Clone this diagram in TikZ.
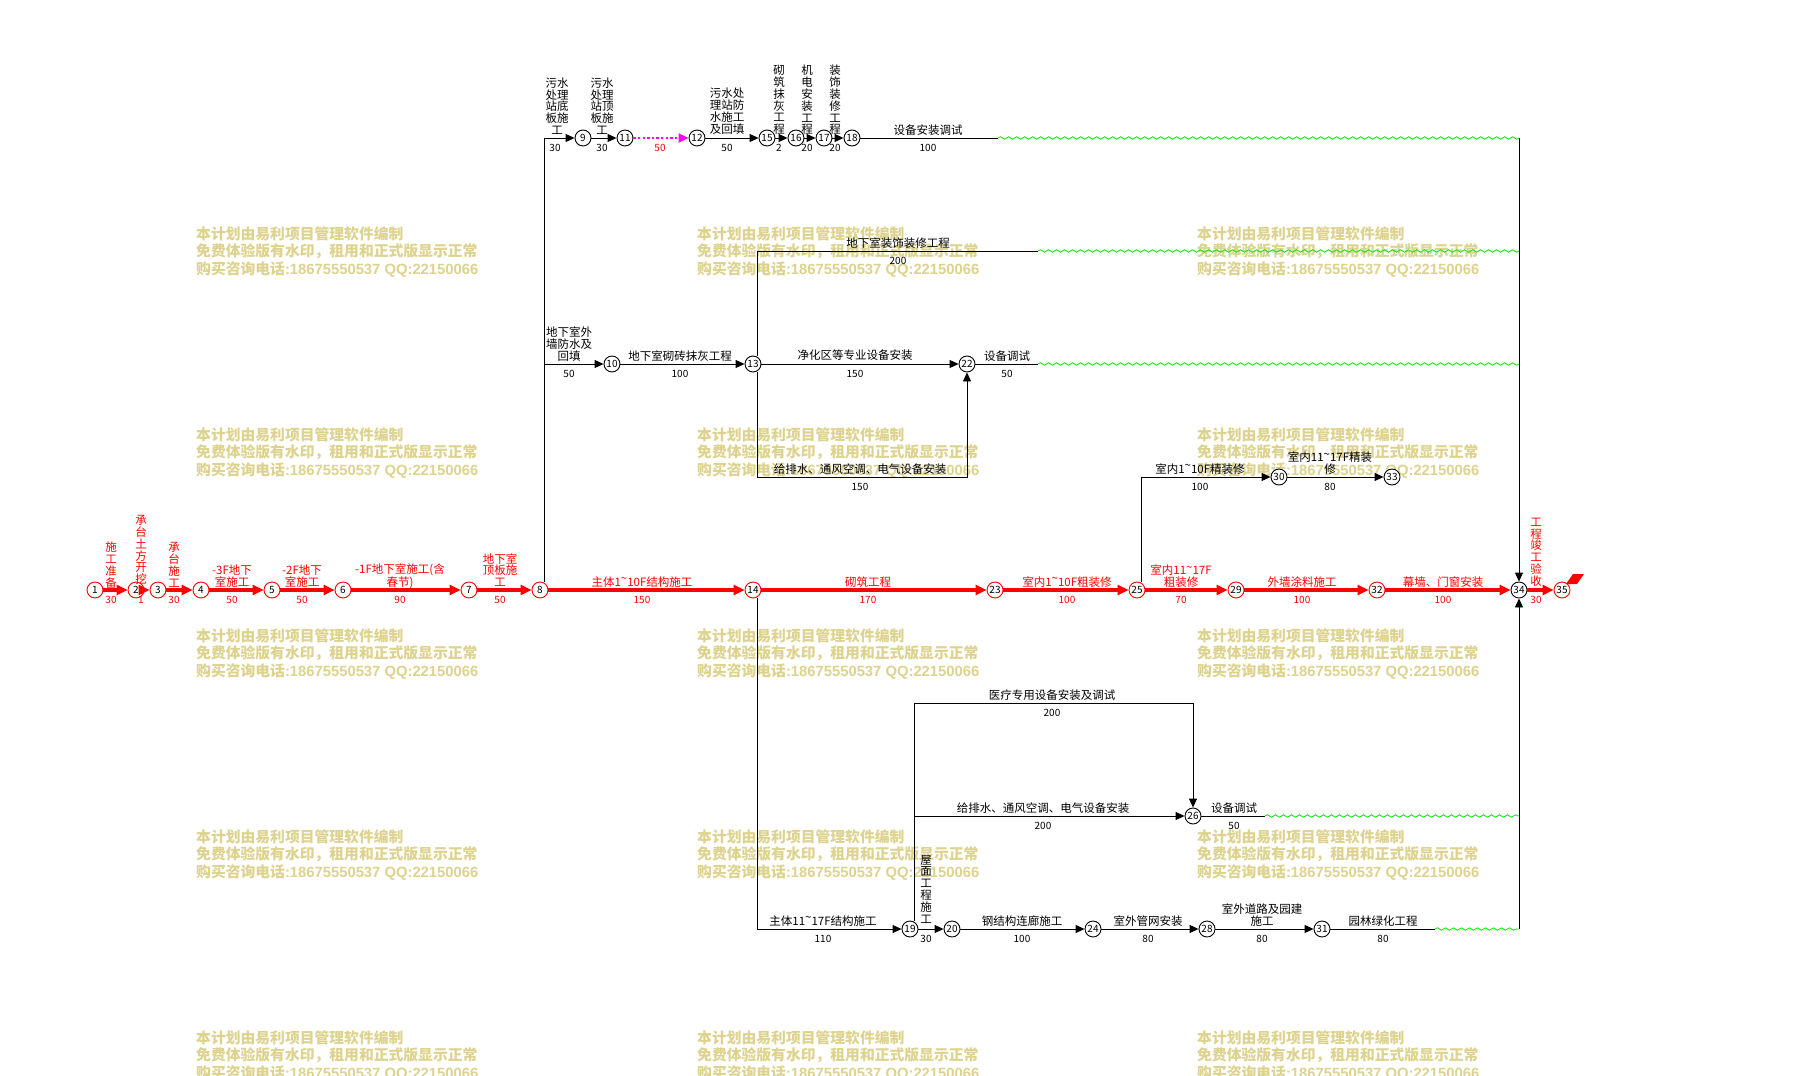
\documentclass[tikz,border=0pt]{standalone}
\usepackage{fontspec}
\setmainfont{Noto Sans CJK SC}
\newfontfamily\latwm{Liberation Sans}
\usetikzlibrary{arrows.meta,decorations.pathmorphing,calc}
\pgfdeclarelayer{bg}
\pgfsetlayers{bg,main}
\definecolor{wmc}{RGB}{221,211,142}
\definecolor{grn}{RGB}{0,235,0}
\definecolor{mag}{RGB}{255,0,255}
\newcommand\tl{\raisebox{0.3em}{\textasciitilde}}
\newcommand\wmtext{本计划由易利项目管理软件编制\\免费体验版有水印，租用和正式版显示正常\\购买咨询电话{\latwm :18675550537 QQ:22150066}}
\begin{document}
\begin{tikzpicture}[x=1pt,y=-1pt,
  cn/.style={circle,draw=black,line width=0.9pt,fill=white,minimum size=16pt,inner sep=0pt,font=\fontsize{10}{10}\selectfont},
  rn/.style={cn,draw=red},
  blk/.style={draw=black,line width=0.9pt},
  blka/.style={blk,-{Triangle[length=9pt,width=8pt]}},
  redl/.style={draw=red,line width=3.2pt,-{Triangle[length=11pt,width=10pt]}},
  magl/.style={draw=mag,line width=2pt,dash pattern=on 2.3pt off 2.3pt,-{Triangle[length=10pt,width=9pt]}},
  wavy/.style={draw=grn,line width=0.8pt,decorate,decoration={snake,segment length=8pt,amplitude=1.2pt}},
  lb/.style={inner sep=0pt,align=center,font=\fontsize{11.5}{11.8}\selectfont},
  rlb/.style={lb,text=red},
  du/.style={inner sep=0pt,font=\fontsize{10}{10}\selectfont},
  rdu/.style={du,text=red},
  wm/.style={inner sep=0pt,align=left,anchor=north west,text=wmc,font=\bfseries\fontsize{14.8}{17.5}\selectfont}
]
\useasboundingbox (0,0) rectangle (1805,1076);
\begin{pgfonlayer}{bg}
\fill[white] (0,0) rectangle (1805,1076);
\foreach \wx/\wy [count=\i] in {196/226,697/226,1197/226,196/427,697/427,1197/427,196/628,697/628,1197/628,196/829,697/829,1197/829,196/1030,697/1030,1197/1030}
  \node[wm] (wm\i) at (\wx,\wy) {\wmtext};
\end{pgfonlayer}

% ---------- nodes ----------
\node[rn] (n1) at (95,590) {1};
\node[rn] (n2) at (136,590) {2};
\node[rn] (n3) at (158,590) {3};
\node[rn] (n4) at (201,590) {4};
\node[rn] (n5) at (272,590) {5};
\node[rn] (n6) at (343,590) {6};
\node[rn] (n7) at (469,590) {7};
\node[rn] (n8) at (540,590) {8};
\node[cn] (n9) at (583,138) {9};
\node[cn] (n11) at (625,138) {11};
\node[cn] (n12) at (697,138) {12};
\node[cn] (n15) at (767,138) {15};
\node[cn] (n16) at (796,138) {16};
\node[cn] (n17) at (824,138) {17};
\node[cn] (n18) at (852,138) {18};
\node[cn] (n10) at (612,364) {10};
\node[cn] (n13) at (753,364) {13};
\node[cn] (n22) at (967,364) {22};
\node[rn] (n14) at (753,590) {14};
\node[rn] (n23) at (995,590) {23};
\node[rn] (n25) at (1137,590) {25};
\node[rn] (n29) at (1236,590) {29};
\node[rn] (n32) at (1377,590) {32};
\node[cn] (n34) at (1519,590) {34};
\node[rn] (n35) at (1562,590) {35};
\node[cn] (n30) at (1279,477) {30};
\node[cn] (n33) at (1392,477) {33};
\node[cn] (n26) at (1193,816) {26};
\node[cn] (n19) at (910,929) {19};
\node[cn] (n20) at (952,929) {20};
\node[cn] (n24) at (1093,929) {24};
\node[cn] (n28) at (1207,929) {28};
\node[cn] (n31) at (1322,929) {31};

\coordinate (w1) at (998,138);  \coordinate (e1) at (1519,138);
\coordinate (w2) at (1038,251); \coordinate (e2) at (1519,251);
\coordinate (w3) at (1038,364); \coordinate (e3) at (1519,364);
\coordinate (w4) at (1265,816); \coordinate (e4) at (1519,816);
\coordinate (w5) at (1435,929); \coordinate (e5) at (1519,929);
\coordinate (c22) at (967,477);
\coordinate (c26) at (1193,703);

% ---------- red critical path ----------
\foreach \a/\b in {n1/n2,n2/n3,n3/n4,n4/n5,n5/n6,n6/n7,n7/n8,n8/n14,n14/n23,n23/n25,n25/n29,n29/n32,n32/n34,n34/n35}
  \draw[redl] (\a) -- (\b);

% ---------- black connectors ----------
\draw[blka] ([xshift=4.5pt]n8.north) |- (n9);
\draw[blka] ([xshift=4.5pt]n8.north) |- (n10);
\draw[blka] (n9) -- (n11);
\draw[magl] (n11) -- (n12);
\foreach \a/\b in {n12/n15,n15/n16,n16/n17,n17/n18,n10/n13,n13/n22,n19/n20,n20/n24,n24/n28,n28/n31,n30/n33}
  \draw[blka] (\a) -- (\b);
\draw[blk] (n18) -- (w1);
\draw[blk] ([xshift=4.5pt]n13.north) |- (w2);
\draw[blk] (n22) -- (w3);
\draw[blka] ([xshift=4.5pt]n13.south) |- (c22) -- (n22);
\draw[blka] ([xshift=4.5pt]n14.south) |- (n19);
\draw[blka] ([xshift=4.5pt]n19.north) |- (c26) -- (n26);
\draw[blka] ([xshift=4.5pt]n19.north) |- (n26);
\draw[blk] (n26) -- (w4);
\draw[blk] (n31) -- (w5);
\draw[blka] ([xshift=4.5pt]n25.north) |- (n30);
\foreach \p in {1,2,3,4,5}
  \draw[wavy] (w\p) -- (e\p);
\draw[blka] (e1) -- (n34);
\draw[blka] (e5) -- (n34);

% flag
\fill[red] (1566,584) -- (1573,574) -- (1584,574) -- (1577,584) -- cycle;

% ---------- labels: top row ----------
\node[lb] (l9) at (557,106) {污水\\处理\\站底\\板施\\工};
\node[du] (d9) at (555,148) {30};
\node[lb] (l11) at (602,106) {污水\\处理\\站顶\\板施\\工};
\node[du] (d11) at (602,148) {30};
\node[rdu] (d12) at (660,148) {50};
\node[lb] (l15) at (727,111) {污水处\\理站防\\水施工\\及回填};
\node[du] (d15) at (727,148) {50};
\node[lb] (l16) at (779,100) {砌\\筑\\抹\\灰\\工\\程};
\node[du] (d16) at (779,148) {2};
\node[lb] (l17) at (807,100) {机\\电\\安\\装\\工\\程};
\node[du] (d17) at (807,148) {20};
\node[lb] (l18) at (835,100) {装\\饰\\装\\修\\工\\程};
\node[du] (d18) at (835,148) {20};
\node[lb] (l1s) at (928,130) {设备安装调试};
\node[du] (d1s) at (928,148) {100};
% row 251
\node[lb] (l2s) at (898,243) {地下室装饰装修工程};
\node[du] (d2s) at (898,261) {200};
% row 364
\node[lb] (l10) at (569,344) {地下室外\\墙防水及\\回填};
\node[du] (d10) at (569,374) {50};
\node[lb] (l13) at (680,356) {地下室砌砖抹灰工程};
\node[du] (d13) at (680,374) {100};
\node[lb] (l22) at (855,355) {净化区等专业设备安装};
\node[du] (d22) at (855,374) {150};
\node[lb] (l3s) at (1007,356) {设备调试};
\node[du] (d3s) at (1007,374) {50};
% row 477
\node[lb] (lc22) at (860,469) {给排水、通风空调、电气设备安装};
\node[du] (dc22) at (860,487) {150};
\node[lb] (l30) at (1200,469) {室内1\tl10F精装修};
\node[du] (d30) at (1200,487) {100};
\node[lb] (l33) at (1330,463) {室内11\tl17F精装\\修};
\node[du] (d33) at (1330,487) {80};
% main row
\node[rlb] (l2) at (111,565) {施\\工\\准\\备};
\node[rdu] (d2) at (111,600) {30};
\node[rlb] (l3) at (141,550) {承\\台\\土\\方\\开\\挖};
\node[rdu] (d3) at (141,600) {1};
\node[rlb] (l4) at (174,565) {承\\台\\施\\工};
\node[rdu] (d4) at (174,600) {30};
\node[rlb] (l5) at (232,576) {-3F地下\\室施工};
\node[rdu] (d5) at (232,600) {50};
\node[rlb] (l6) at (302,576) {-2F地下\\室施工};
\node[rdu] (d6) at (302,600) {50};
\node[rlb] (l7) at (400,576) {-1F地下室施工(含\\春节)};
\node[rdu] (d7) at (400,600) {90};
\node[rlb] (l8) at (500,570) {地下室\\顶板施\\工};
\node[rdu] (d8) at (500,600) {50};
\node[rlb] (l14) at (642,582) {主体1\tl10F结构施工};
\node[rdu] (d14) at (642,600) {150};
\node[rlb] (l23) at (868,582) {砌筑工程};
\node[rdu] (d23) at (868,600) {170};
\node[rlb] (l25) at (1067,582) {室内1\tl10F粗装修};
\node[rdu] (d25) at (1067,600) {100};
\node[rlb] (l29) at (1181,576) {室内11\tl17F\\粗装修};
\node[rdu] (d29) at (1181,600) {70};
\node[rlb] (l32) at (1302,582) {外墙涂料施工};
\node[rdu] (d32) at (1302,600) {100};
\node[rlb] (l34) at (1443,582) {幕墙、门窗安装};
\node[rdu] (d34) at (1443,600) {100};
\node[rlb] (l35) at (1536,552) {工\\程\\竣\\工\\验\\收};
\node[rdu] (d35) at (1536,600) {30};
% row 703 / 816
\node[lb] (lc26) at (1052,695) {医疗专用设备安装及调试};
\node[du] (dc26) at (1052,713) {200};
\node[lb] (l26) at (1043,808) {给排水、通风空调、电气设备安装};
\node[du] (d26) at (1043,826) {200};
\node[lb] (l4s) at (1234,808) {设备调试};
\node[du] (d4s) at (1234,826) {50};
% bottom row
\node[lb] (l19) at (823,921) {主体11\tl17F结构施工};
\node[du] (d19) at (823,939) {110};
\node[lb] (l20) at (926,889) {屋\\面\\工\\程\\施\\工};
\node[du] (d20) at (926,939) {30};
\node[lb] (l24) at (1022,921) {钢结构连廊施工};
\node[du] (d24) at (1022,939) {100};
\node[lb] (l28) at (1148,921) {室外管网安装};
\node[du] (d28) at (1148,939) {80};
\node[lb] (l31) at (1262,915) {室外道路及园建\\施工};
\node[du] (d31) at (1262,939) {80};
\node[lb] (l5s) at (1383,921) {园林绿化工程};
\node[du] (d5s) at (1383,939) {80};
\end{tikzpicture}
\end{document}
